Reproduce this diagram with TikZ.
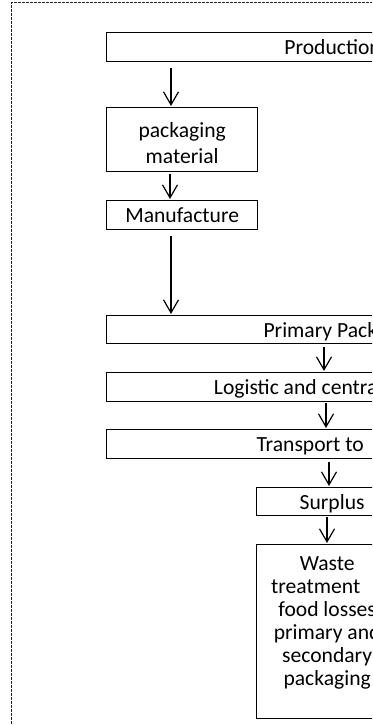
\documentclass[tikz,border=0pt]{standalone}
\usepackage{fontspec}
\setmainfont{Carlito}
\usetikzlibrary{arrows.meta}

\begin{document}
\begin{tikzpicture}[x=1pt,y=-1pt,
    box/.style={draw, line width=1.3pt, anchor=north west, inner sep=0pt,
        font=\fontsize{21.6}{23}\selectfont},
    onebox/.style={box, text height=15pt, text depth=0pt},
    arr/.style={line width=1.2pt, -{Straight Barb[length=13pt,width=15pt,line width=1.2pt]}, shorten >=1pt},
    outerframe/.style={line width=1pt, dash pattern=on 3pt off 1pt, black!85}]

    \useasboundingbox (0,0) rectangle (372,725);
    \clip (0,0) rectangle (372,725);

    \draw[outerframe] (11,740) -- (11,3) -- (390,3);

    \node[onebox, minimum width=452pt, minimum height=29pt] (prod) at (106,32) {Production};
    \node[box, minimum width=151pt, align=flush center, text height=55.7pt, text depth=8.3pt,
        font=\fontsize{21.6}{26}\selectfont] (pkg) at (106,107) {packaging\\material};
    \node[onebox, minimum width=151pt, minimum height=29pt] (manu) at (106,200) {Manufacture};
    \node[onebox, minimum width=474pt, minimum height=28pt] (prim) at (106,315) {Primary Packaging};
    \node[onebox, minimum width=383pt, minimum height=29pt] (logi) at (106,372) {Logistic and central};
    \node[onebox, minimum width=407pt, minimum height=29pt] (trans) at (106,429) {Transport to};
    \node[onebox, minimum width=151pt, minimum height=28pt] (surp) at (256,487) {Surplus};
    \node[box, text width=130pt, inner xsep=5.5pt, align=flush center, text height=26pt, text depth=148pt]
        (waste) at (256,544) {Waste\\treatment\hphantom{ of}\\food losses\\primary and\\secondary\\packaging};

    % x positions of the arrows
    \coordinate (a1) at (171,0);
    \coordinate (a2) at (170,0);
    \coordinate (a3) at (171,0);
    \coordinate (a4) at (324,0);
    \coordinate (a5) at (326,0);
    \coordinate (a6) at (329,0);
    \coordinate (a7) at (327,0);

    \draw[arr, shorten <=6pt] (a1 |- prod.south) -- (a1 |- pkg.north);
    \draw[arr, shorten <=2pt] (a2 |- pkg.south) -- (a2 |- manu.north);
    \draw[arr, shorten <=6pt] (a3 |- manu.south) -- (a3 |- prim.north);
    \draw[arr, shorten <=3pt] (a4 |- prim.south) -- (a4 |- logi.north);
    \draw[arr, shorten <=1pt] (a5 |- logi.south) -- (a5 |- trans.north);
    \draw[arr, shorten <=3pt] (a6 |- trans.south) -- (a6 |- surp.north);
    \draw[arr, shorten <=1pt] (a7 |- surp.south) -- (a7 |- waste.north);

\end{tikzpicture}
\end{document}
